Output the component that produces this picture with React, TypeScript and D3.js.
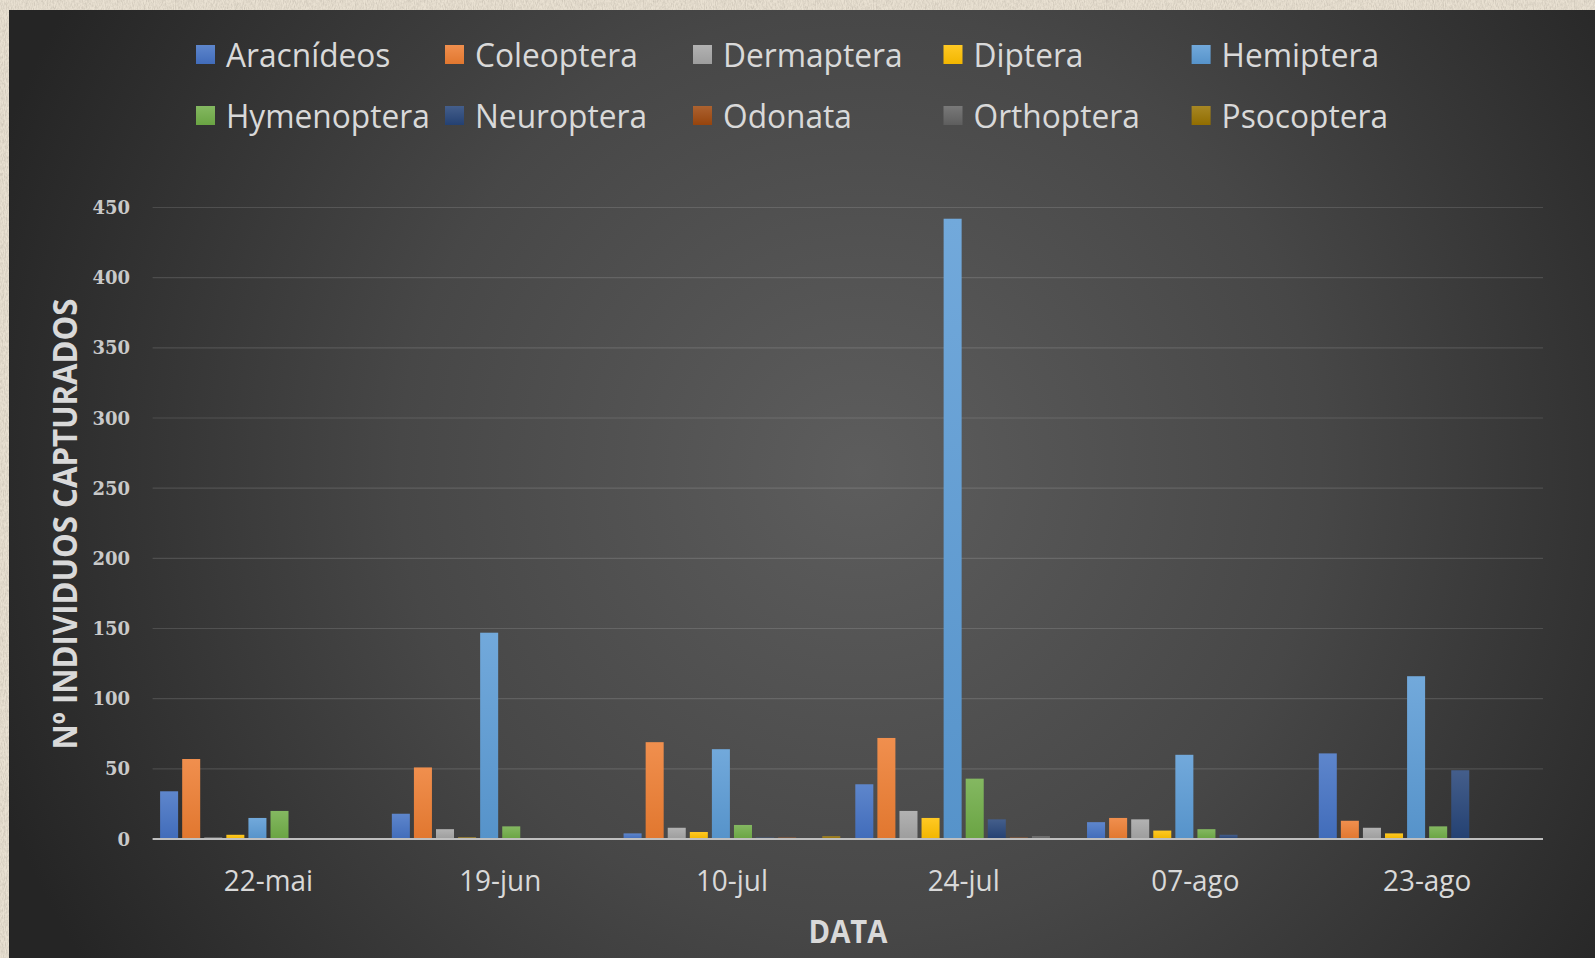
import React, { useEffect } from "react";
import * as d3 from "d3";

// Sampling dates (x categories)
const categories = ["22-mai", "19-jun", "10-jul", "24-jul", "07-ago", "23-ago"];

// Insect orders / groups captured
const seriesNames = [
  "Aracnídeos",
  "Coleoptera",
  "Dermaptera",
  "Diptera",
  "Hemiptera",
  "Hymenoptera",
  "Neuroptera",
  "Odonata",
  "Orthoptera",
  "Psocoptera",
];

// Counts per date for each group
const aracnideos = [34, 18, 4, 39, 12, 61];
const coleoptera = [57, 51, 69, 72, 15, 13];
const dermaptera = [1, 7, 8, 20, 14, 8];
const diptera = [3, 1, 5, 15, 6, 4];
const hemiptera = [15, 147, 64, 442, 60, 116];
const hymenoptera = [20, 9, 10, 43, 7, 9];
const neuroptera = [0, 0, 1, 14, 3, 49];
const odonata = [0, 0, 1, 1, 0, 0];
const orthoptera = [0, 0, 0, 2, 0, 0];
const psocoptera = [0, 0, 2, 0, 0, 0];

const yTicks = [0, 50, 100, 150, 200, 250, 300, 350, 400, 450];

const seriesValues = [
  aracnideos,
  coleoptera,
  dermaptera,
  diptera,
  hemiptera,
  hymenoptera,
  neuroptera,
  odonata,
  orthoptera,
  psocoptera,
];

const colors = [
  "#4472C4",
  "#ED7D31",
  "#A5A5A5",
  "#FFC000",
  "#5B9BD5",
  "#70AD47",
  "#264478",
  "#9E480E",
  "#636363",
  "#997300",
];

const W = 1595;
const H = 958;
const plot = { left: 152.6, right: 1543, top: 207.5, bottom: 839 };

const SANS = "'Open Sans', 'Noto Sans', sans-serif";

// Text drawn with a slight horizontal squeeze to get a Calibri-like width
function Txt(props: {
  x: number;
  y: number;
  size: number;
  sx?: number;
  anchor?: string;
  weight?: number | string;
  fill?: string;
  rotate?: number;
  family?: string;
  children: React.ReactNode;
}) {
  const { x, y, size, sx = 0.93, anchor = "start", weight = 400, fill = "#d9d9d9", rotate = 0, family = SANS } = props;
  return (
    <text
      transform={`translate(${x},${y}) rotate(${rotate}) scale(${sx},1)`}
      textAnchor={anchor}
      fontFamily={family}
      fontSize={size}
      fontWeight={weight}
      fill={fill}
    >
      {props.children}
    </text>
  );
}

export default function App() {
  useEffect(() => {
    document.body.style.margin = "0";
    document.body.style.overflow = "hidden";
  }, []);

  const x0 = d3.scaleBand<string>().domain(categories).range([plot.left, plot.right]).padding(0);
  const x1 = d3
    .scaleBand<string>()
    .domain(seriesNames)
    .range([0, x0.bandwidth()])
    .paddingInner(0.184)
    .paddingOuter(0.34);
  const y = d3.scaleLinear().domain([0, 450]).range([plot.bottom, plot.top]);

  const legendCols = [226, 475, 723, 973.5, 1221.6];
  const legendRows = [66.5, 127.5];

  return (
    <svg width={W} height={H} style={{ position: "absolute", left: 0, top: 0, display: "block" }}>
      <defs>
        <filter id="paper" x="0" y="0" width="100%" height="100%">
          <feTurbulence type="fractalNoise" baseFrequency="1.1 0.3" numOctaves="3" seed="4" result="noise" />
          <feColorMatrix
            in="noise"
            type="matrix"
            values="0 0 0 0 0.5  0 0 0 0 0.45  0 0 0 0 0.38  0 0 0 1.1 -0.35"
            result="spots"
          />
          <feComposite in="spots" in2="SourceGraphic" operator="over" />
        </filter>
        <radialGradient id="panelBg" gradientUnits="userSpaceOnUse" cx={860} cy={470} r={920}>
          <stop offset="0" stopColor="#5d5d5d" />
          <stop offset="0.5" stopColor="#474747" />
          <stop offset="1" stopColor="#252525" />
        </radialGradient>
        {colors.map((c, i) => (
          <linearGradient key={i} id={`bar${i}`} x1="0" y1="0" x2="0" y2="1">
            <stop offset="0" stopColor={d3.interpolateRgb(c, "#ffffff")(0.14)} />
            <stop offset="1" stopColor={d3.interpolateRgb(c, "#000000")(0.05)} />
          </linearGradient>
        ))}
      </defs>

      {/* parchment surround */}
      <rect x={0} y={0} width={W} height={H} fill="#e9e1d2" filter="url(#paper)" />

      {/* chart panel */}
      <rect x={9} y={10} width={W - 9} height={H - 10} fill="url(#panelBg)" />

      {/* gridlines */}
      {yTicks.slice(1).map((t) => (
        <line
          key={t}
          x1={plot.left}
          x2={plot.right}
          y1={y(t)}
          y2={y(t)}
          stroke="#ffffff"
          strokeOpacity={0.13}
          strokeWidth={1.2}
        />
      ))}

      {/* y tick labels */}
      {yTicks.map((t) => (
        <Txt
          key={t}
          x={130}
          y={y(t) + 6.5}
          size={18}
          sx={1}
          anchor="end"
          weight={700}
          fill="#c9c9c9"
          family="'DejaVu Serif', serif"
        >
          {t}
        </Txt>
      ))}

      {/* bars */}
      {categories.map((cat, ci) => (
        <g key={cat} transform={`translate(${x0(cat)},0)`}>
          {seriesNames.map((s, si) => {
            const v = seriesValues[si][ci];
            if (!v) return null;
            return (
              <rect
                key={s}
                x={x1(s)}
                y={y(v)}
                width={x1.bandwidth()}
                height={y(0) - y(v)}
                fill={`url(#bar${si})`}
              />
            );
          })}
        </g>
      ))}

      {/* baseline */}
      <line x1={plot.left} x2={plot.right} y1={y(0)} y2={y(0)} stroke="#bfbfbf" strokeWidth={2.2} />

      {/* x tick labels */}
      {categories.map((cat) => (
        <Txt key={cat} x={(x0(cat) as number) + x0.bandwidth() / 2} y={890.5} size={30} sx={0.93} anchor="middle">
          {cat}
        </Txt>
      ))}

      {/* axis titles */}
      <Txt x={848} y={942.5} size={32.5} sx={0.9} anchor="middle" weight={700}>
        DATA
      </Txt>
      <Txt x={76.5} y={524} size={33.5} sx={0.93} anchor="middle" weight={700} rotate={-90}>
        Nº INDIVIDUOS CAPTURADOS
      </Txt>

      {/* legend */}
      {seriesNames.map((s, i) => {
        const col = i % 5;
        const row = Math.floor(i / 5);
        const tx = legendCols[col];
        const ty = legendRows[row];
        return (
          <g key={s}>
            <rect x={tx - 30} y={ty - 21.5} width={19} height={19} fill={`url(#bar${i})`} />
            <Txt x={tx} y={ty} size={32.5} sx={0.975}>
              {s}
            </Txt>
          </g>
        );
      })}
    </svg>
  );
}
